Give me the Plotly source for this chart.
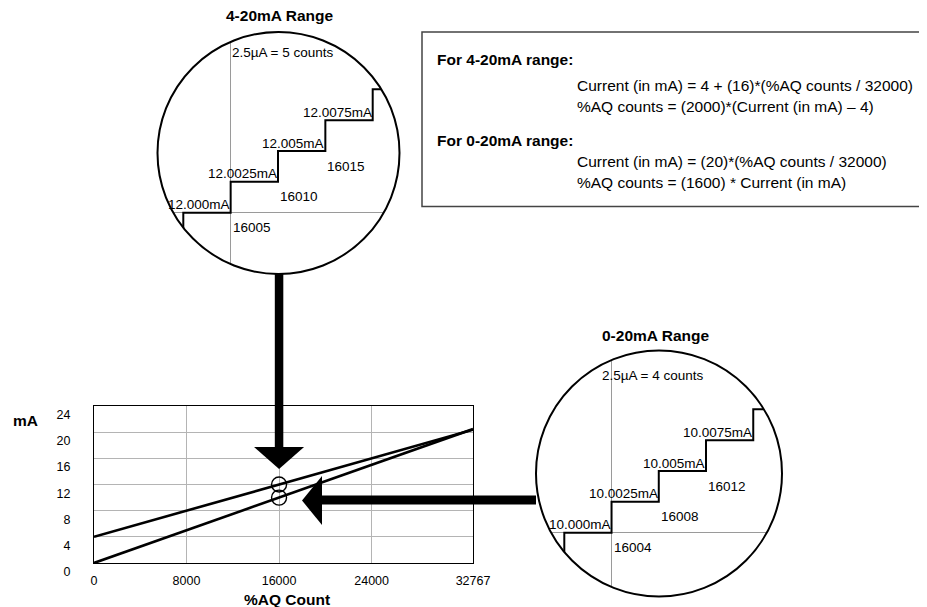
import numpy as np
import plotly.graph_objects as go

W, H = 927, 607
OFF = 8  # the page body margin shifts the figure by this many pixels
FONT = "Liberation Sans, Arial, Helvetica, sans-serif"

# ── Data ──────────────────────────────────────────────────────────────────
# main chart: %AQ count vs output current
aq_counts = [0, 32767]
ma_4_20 = [4.0, 20.38]
ma_0_20 = [0.0, 20.48]
x_ticks = [0, 8000, 16000, 24000, 32767]
y_ticks = [0, 4, 8, 12, 16, 20, 24]
marked_counts = [16000, 16000]
marked_ma = [12.0, 10.0]

# 4-20mA zoom (5 counts per 2.5uA)
zoom_4_20_counts = [16000, 16005, 16010, 16015, 16020, 16023]
zoom_4_20_ma = [11.9952, 12.000, 12.0025, 12.005, 12.0075, 12.010]
zoom_4_20_ma_labels = ["12.000mA", "12.0025mA", "12.005mA", "12.0075mA"]
zoom_4_20_count_labels = ["16005", "16010", "16015"]

# 0-20mA zoom (4 counts per 2.5uA)
zoom_0_20_counts = [16000, 16004, 16008, 16012, 16016, 16019]
zoom_0_20_ma = [9.9950, 10.000, 10.0025, 10.005, 10.0075, 10.010]
zoom_0_20_ma_labels = ["10.000mA", "10.0025mA", "10.005mA", "10.0075mA"]
zoom_0_20_count_labels = ["16004", "16008", "16012"]

formula_lines = [
    ("For 4-20mA range:", True),
    ("Current (in mA) = 4 + (16)*(%AQ counts / 32000)", False),
    ("%AQ counts = (2000)*(Current (in mA) \u2013 4)", False),
    ("For 0-20mA range:", True),
    ("Current (in mA) = (20)*(%AQ counts / 32000)", False),
    ("%AQ counts = (1600) * Current (in mA)", False),
]


def fx(px):
    return (px - OFF) / W


def fy(py):
    return 1 - (py - OFF) / H


# ── Layout geometry (page pixels) ─────────────────────────────────────────
TOP = dict(cx=278.5, cy=153, r=121)
BOT = dict(cx=659, cy=473.5, r=123)

fig = go.Figure()

# main chart lines
for ys in (ma_4_20, ma_0_20):
    fig.add_trace(go.Scatter(x=aq_counts, y=ys, mode="lines",
                             line=dict(color="black", width=2.6),
                             hoverinfo="skip"))
fig.add_trace(go.Scatter(x=marked_counts, y=marked_ma, mode="markers",
                         marker=dict(symbol="circle-open", size=15,
                                     color="black", line=dict(width=1.4)),
                         hoverinfo="skip"))

# zoom steps
fig.add_trace(go.Scatter(x=zoom_4_20_counts, y=zoom_4_20_ma, mode="lines",
                         line=dict(color="black", width=2, shape="vh"),
                         xaxis="x2", yaxis="y2", hoverinfo="skip"))
fig.add_trace(go.Scatter(x=zoom_0_20_counts, y=zoom_0_20_ma, mode="lines",
                         line=dict(color="black", width=2, shape="vh"),
                         xaxis="x3", yaxis="y3", hoverinfo="skip"))


def inset_axes(c, x_rng, y_rng, xgrid, ygrid):
    xd = [fx(c["cx"] - c["r"]), fx(c["cx"] + c["r"])]
    yd = [fy(c["cy"] + c["r"]), fy(c["cy"] - c["r"])]
    common = dict(showticklabels=False, zeroline=False, showline=False,
                  ticks="", gridcolor="#9a9a9a", gridwidth=1, fixedrange=True)
    xa = dict(domain=xd, range=x_rng, tickvals=[xgrid], **common)
    ya = dict(domain=yd, range=y_rng, tickvals=[ygrid], **common)
    return xa, ya


xa2, ya2 = inset_axes(TOP, [15997.276, 16022.830], [11.995032, 12.014644],
                      zoom_4_20_counts[1], zoom_4_20_ma[1])
xa3, ya3 = inset_axes(BOT, [15997.604, 16018.434], [9.994830, 10.014765],
                      zoom_0_20_counts[1], zoom_0_20_ma[1])
xa2["anchor"], ya2["anchor"] = "y2", "x2"
xa3["anchor"], ya3["anchor"] = "y3", "x3"


def ring_mask(c, pad=5):
    # white square with a round hole: clips the zoom content to the circle
    cx, cy, r = c["cx"], c["cy"], c["r"]
    x0, x1, y0, y1 = cx - r - pad, cx + r + pad, cy - r - pad, cy + r + pad
    outer = (f"M{fx(x0)},{fy(y0)} L{fx(x1)},{fy(y0)} "
             f"L{fx(x1)},{fy(y1)} L{fx(x0)},{fy(y1)} Z")
    t = np.linspace(0, -2 * np.pi, 181)
    pts = [f"{fx(cx + r * np.cos(a))},{fy(cy + r * np.sin(a))}" for a in t]
    inner = "M" + " L".join(pts) + " Z"
    return dict(type="path", xref="paper", yref="paper", path=outer + " " + inner,
                fillcolor="white", fillrule="evenodd", line=dict(width=0),
                layer="above")


def circle(c):
    return dict(type="circle", xref="paper", yref="paper",
                x0=fx(c["cx"] - c["r"]), x1=fx(c["cx"] + c["r"]),
                y0=fy(c["cy"] + c["r"]), y1=fy(c["cy"] - c["r"]),
                line=dict(color="black", width=2), layer="above")


shapes = [ring_mask(TOP), ring_mask(BOT), circle(TOP), circle(BOT)]

# vertical arrow, anchored on x=16000 of the main chart
shapes.append(dict(type="line", xref="x", yref="paper", xsizemode="pixel",
                   xanchor=16000, x0=0, x1=0,
                   y0=fy(TOP["cy"] + TOP["r"]), y1=fy(449),
                   line=dict(color="black", width=8.5)))
shapes.append(dict(type="path", xref="x", yref="paper", xsizemode="pixel",
                   xanchor=16000,
                   path=f"M-25,{fy(447)} L25,{fy(447)} L0,{fy(469)} Z",
                   fillcolor="black", line=dict(width=0)))
# horizontal arrow into the 0-20mA circle
shapes.append(dict(type="line", xref="paper", yref="paper",
                   x0=fx(320), x1=fx(BOT["cx"] - BOT["r"]),
                   y0=fy(500), y1=fy(500),
                   line=dict(color="black", width=9)))
shapes.append(dict(type="path", xref="paper", yref="paper",
                   path=(f"M{fx(322)},{fy(476)} L{fx(322)},{fy(525)} "
                         f"L{fx(302)},{fy(500.5)} Z"),
                   fillcolor="black", line=dict(width=0)))
# formula box
shapes.append(dict(type="rect", xref="paper", yref="paper",
                   x0=fx(422), x1=1.02, y0=fy(206.5), y1=fy(32),
                   line=dict(color="#444", width=1.5), layer="above"))

ann = []


def txt(text, x, y, size=13.5, bold=False, xanchor="center", **kw):
    ann.append(dict(text=f"<b>{text}</b>" if bold else text,
                    x=x, y=y, xref=kw.pop("xref", "paper"),
                    yref=kw.pop("yref", "paper"), xanchor=xanchor,
                    yanchor=kw.pop("yanchor", "middle"), showarrow=False,
                    font=dict(family=FONT, size=size, color="black"), **kw))


# titles and notes
txt("4-20mA Range", fx(279), fy(16), size=15.5, bold=True)
txt("0-20mA Range", fx(655), fy(335), size=15.5, bold=True)
txt("2.5\u00b5A = 5 counts", fx(229.5), fy(53), xanchor="left")
txt("2.5\u00b5A = 4 counts", fx(599.5), fy(375), xanchor="left")

# step labels
for xs, ys, ml, cl, xr, yr in (
        (zoom_4_20_counts, zoom_4_20_ma, zoom_4_20_ma_labels,
         zoom_4_20_count_labels, "x2", "y2"),
        (zoom_0_20_counts, zoom_0_20_ma, zoom_0_20_ma_labels,
         zoom_0_20_count_labels, "x3", "y3")):
    for i, lab in enumerate(ml):
        txt(lab, xs[i + 1], ys[i + 1], xanchor="right", xref=xr, yref=yr,
            yshift=8, xshift=1)
    for i, lab in enumerate(cl):
        txt(lab, xs[i + 1], ys[i + 1], xanchor="left", xref=xr, yref=yr,
            yshift=-15)

# formula text
ys_box = [60, 85, 106, 140, 161.5, 182.5]
for (line, bold), yy in zip(formula_lines, ys_box):
    txt(line, fx(435 if bold else 575), fy(yy), size=15.5, bold=bold,
        xanchor="left")

# axis captions
txt("mA", fx(25), fy(420), size=15.5, bold=True)
txt("%AQ Count", fx(287), fy(599), size=15.5, bold=True)

fig.update_layout(
    width=W, height=H,
    margin=dict(l=0, r=0, t=0, b=0),
    paper_bgcolor="white", plot_bgcolor="white",
    showlegend=False,
    font=dict(family=FONT, size=12.5, color="black"),
    xaxis=dict(domain=[fx(94), fx(473)], range=[0, 32767], tickvals=x_ticks,
               ticktext=[str(v) for v in x_ticks],
               showline=True, mirror=True, linecolor="black", linewidth=1,
               showgrid=True, gridcolor="#b4b4b4", gridwidth=1.2,
               zeroline=False, ticks="", ticklabelstandoff=6,
               automargin=False, fixedrange=True),
    yaxis=dict(domain=[fy(563), fy(406)], range=[0, 24], tickvals=y_ticks,
               ticktext=[str(v) for v in y_ticks],
               showline=True, mirror=True, linecolor="black", linewidth=1,
               showgrid=True, gridcolor="#b4b4b4", gridwidth=1.2,
               zeroline=False, ticks="", ticklabelstandoff=20,
               ticklabelposition="outside bottom",
               automargin=False, fixedrange=True),
    xaxis2=xa2, yaxis2=ya2, xaxis3=xa3, yaxis3=ya3,
    shapes=shapes,
    annotations=ann,
)

fig.write_html("out.html")
